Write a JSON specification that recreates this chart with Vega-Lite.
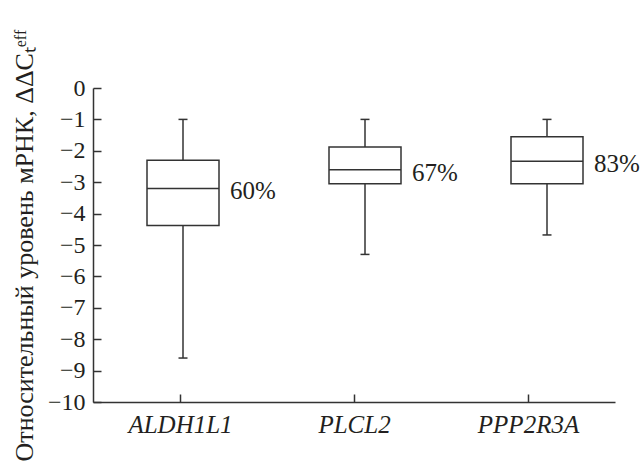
{
  "$schema": "https://vega.github.io/schema/vega-lite/v6.json",
  "autosize": {"type": "none"},
  "width": 522,
  "height": 314,
  "padding": {"left": 93, "top": 88, "right": 28, "bottom": 67},
  "background": "white",
  "config": {
    "view": {"stroke": null},
    "font": "Liberation Serif",
    "axis": {
      "domainColor": "#333333",
      "domainWidth": 1.5,
      "tickColor": "#333333",
      "tickWidth": 1.5,
      "tickSize": -8,
      "labelFont": "Liberation Serif",
      "labelFontSize": 24,
      "labelColor": "#231f20",
      "labelOverlap": false,
      "titleFont": "Liberation Serif",
      "titleFontWeight": "normal",
      "titleColor": "#231f20",
      "grid": false
    }
  },
  "resolve": {"axis": {"y": "independent", "x": "independent"}, "scale": {"x": "independent"}},
  "data": {
    "values": [
      {"gene": "ALDH1L1", "min": -8.6, "q1": -4.38, "median": -3.2, "q3": -2.3, "max": -1.0, "pct": "60%"},
      {"gene": "PLCL2", "min": -5.3, "q1": -3.05, "median": -2.6, "q3": -1.88, "max": -1.0, "pct": "67%"},
      {"gene": "PPP2R3A", "min": -4.68, "q1": -3.05, "median": -2.33, "q3": -1.55, "max": -1.0, "pct": "83%"}
    ]
  },
  "layer": [
    {
      "mark": {"type": "point", "opacity": 0},
      "encoding": {
        "x": {
          "field": "gene",
          "type": "nominal",
          "sort": null,
          "scale": {"paddingInner": 0, "paddingOuter": 0},
          "axis": {
            "title": null,
            "labelAngle": 0,
            "labelFontStyle": "italic",
            "labelPadding": 18,
            "labelFontSize": 25
          }
        },
        "y": {
          "field": "median",
          "type": "quantitative",
          "scale": {"domain": [-10, 0], "nice": false, "zero": false},
          "axis": {
            "title": "Относительный уровень мРНК, ΔΔCₜᵉᶠᶠ",
            "titleFontSize": 26,
            "titlePadding": 10,
            "values": [0, -1, -2, -3, -4, -5, -6, -7, -8, -9, -10],
            "labelExpr": "datum.value < 0 ? '\u2212' + abs(datum.value) : '' + datum.value",
            "labelPadding": 16,
            "labelOverlap": false,
            "labelFlush": false
          }
        }
      }
    },
    {
      "mark": {"type": "rule", "stroke": "#333333", "strokeWidth": 1.5},
      "encoding": {
        "x": {"field": "gene", "type": "nominal", "sort": null, "scale": {"range": [-1, 545], "paddingInner": 0, "paddingOuter": 0}, "axis": null},
        "y": {"field": "min", "type": "quantitative", "axis": null},
        "y2": {"field": "max"}
      }
    },
    {
      "mark": {"type": "bar", "fill": "white", "stroke": "#333333", "strokeWidth": 1.5, "size": 72},
      "encoding": {
        "x": {"field": "gene", "type": "nominal", "sort": null, "scale": {"range": [-1, 545], "paddingInner": 0, "paddingOuter": 0}, "axis": null},
        "y": {"field": "q3", "type": "quantitative", "axis": null},
        "y2": {"field": "q1"}
      }
    },
    {
      "mark": {"type": "tick", "orient": "horizontal", "color": "#333333", "size": 72, "thickness": 1.5, "opacity": 1},
      "encoding": {
        "x": {"field": "gene", "type": "nominal", "sort": null, "scale": {"range": [-1, 545], "paddingInner": 0, "paddingOuter": 0}, "axis": null},
        "y": {"field": "median", "type": "quantitative", "axis": null}
      }
    },
    {
      "mark": {"type": "tick", "orient": "horizontal", "color": "#333333", "size": 9, "thickness": 1.5, "opacity": 1},
      "encoding": {
        "x": {"field": "gene", "type": "nominal", "sort": null, "scale": {"range": [-1, 545], "paddingInner": 0, "paddingOuter": 0}, "axis": null},
        "y": {"field": "min", "type": "quantitative", "axis": null}
      }
    },
    {
      "mark": {"type": "tick", "orient": "horizontal", "color": "#333333", "size": 9, "thickness": 1.5, "opacity": 1},
      "encoding": {
        "x": {"field": "gene", "type": "nominal", "sort": null, "scale": {"range": [-1, 545], "paddingInner": 0, "paddingOuter": 0}, "axis": null},
        "y": {"field": "max", "type": "quantitative", "axis": null}
      }
    },
    {
      "mark": {"type": "text", "align": "left", "baseline": "middle", "dx": 47, "dy": 3, "fontSize": 25, "font": "Liberation Serif", "color": "#231f20"},
      "encoding": {
        "x": {"field": "gene", "type": "nominal", "sort": null, "scale": {"range": [-1, 545], "paddingInner": 0, "paddingOuter": 0}, "axis": null},
        "y": {"field": "median", "type": "quantitative", "axis": null},
        "text": {"field": "pct"}
      }
    }
  ]
}
